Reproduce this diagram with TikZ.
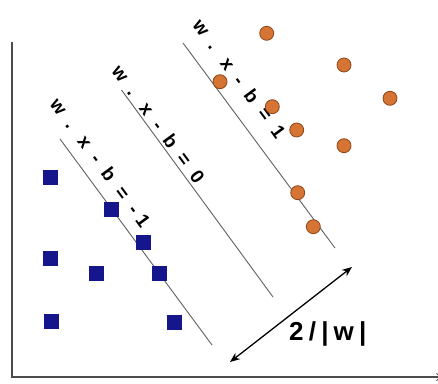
\documentclass[tikz,border=0pt]{standalone}
\usepackage{fontspec}
\setmainfont{Liberation Sans}
\newfontfamily\lblfont{Liberation Sans}[LetterSpace=32]
\newfontfamily\widthfont{Liberation Sans}[LetterSpace=20]
\usetikzlibrary{arrows.meta}
\definecolor{sqblue}{RGB}{22,22,140}
\definecolor{dotorange}{RGB}{214,116,52}
\definecolor{dotedge}{RGB}{140,70,25}

\begin{document}
\begin{tikzpicture}[x=1pt,y=-1pt,>={Stealth[length=10pt,width=8pt]},
  axis/.style={draw=gray!60!black,line width=1.6pt},
  margin/.style={draw=gray!75!black,line width=0.9pt},
  neg point/.style={rectangle,fill=sqblue,minimum size=15pt,inner sep=0pt},
  pos point/.style={circle,fill=dotorange,draw=dotedge,line width=0.8pt,minimum size=14pt,inner sep=0pt},
  eq label/.style={font=\lblfont\bfseries\fontsize{19}{21}\selectfont,rotate=-53.6,inner sep=0pt}]
  \useasboundingbox (0,0) rectangle (438,383);

  \coordinate (ytop) at (12,42);
  \coordinate (xend) at (446,377);
  \draw[axis,->] (ytop) |- (xend);

  \coordinate (m1a) at (60,139);   \coordinate (m1b) at (212,345);
  \coordinate (m0a) at (121.5,90); \coordinate (m0b) at (273,297);
  \coordinate (p1a) at (183,43);   \coordinate (p1b) at (335,248);
  \draw[margin] (m1a) -- (m1b);
  \draw[margin] (m0a) -- (m0b);
  \draw[margin] (p1a) -- (p1b);

  \node[eq label] (lm1) at (100.4,162.5) {w . x - b = -1};
  \node[eq label] (lm0) at (158.5,124.2) {w . x - b = 0};
  \node[eq label] (lp1) at (239.5,79.1) {w . x - b = 1};

  \node[neg point] (s1) at (50.7,177.3) {};
  \node[neg point] (s2) at (111.7,209.3) {};
  \node[neg point] (s3) at (143.3,242.3) {};
  \node[neg point] (s4) at (50.7,258.3) {};
  \node[neg point] (s5) at (96.7,273.3) {};
  \node[neg point] (s6) at (159.3,273.3) {};
  \node[neg point] (s7) at (51,321) {};
  \node[neg point] (s8) at (174,322) {};

  \node[pos point] (c1) at (266.7,33.3) {};
  \node[pos point] (c2) at (344,65) {};
  \node[pos point] (c3) at (220,81.7) {};
  \node[pos point] (c4) at (390,98.3) {};
  \node[pos point] (c5) at (272.3,106.7) {};
  \node[pos point] (c6) at (296.7,130) {};
  \node[pos point] (c7) at (344,145.7) {};
  \node[pos point] (c8) at (297.7,192.7) {};
  \node[pos point] (c9) at (313.3,226.7) {};

  \coordinate (a1) at (230,362);
  \coordinate (a2) at (352,267);
  \draw[<->,line width=1.3pt] (a1) -- (a2);
  \node[anchor=base west,inner sep=0pt,font=\widthfont\bfseries\fontsize{26}{28}\selectfont] (gap) at (289,340) {2/|w|};
\end{tikzpicture}
\end{document}
